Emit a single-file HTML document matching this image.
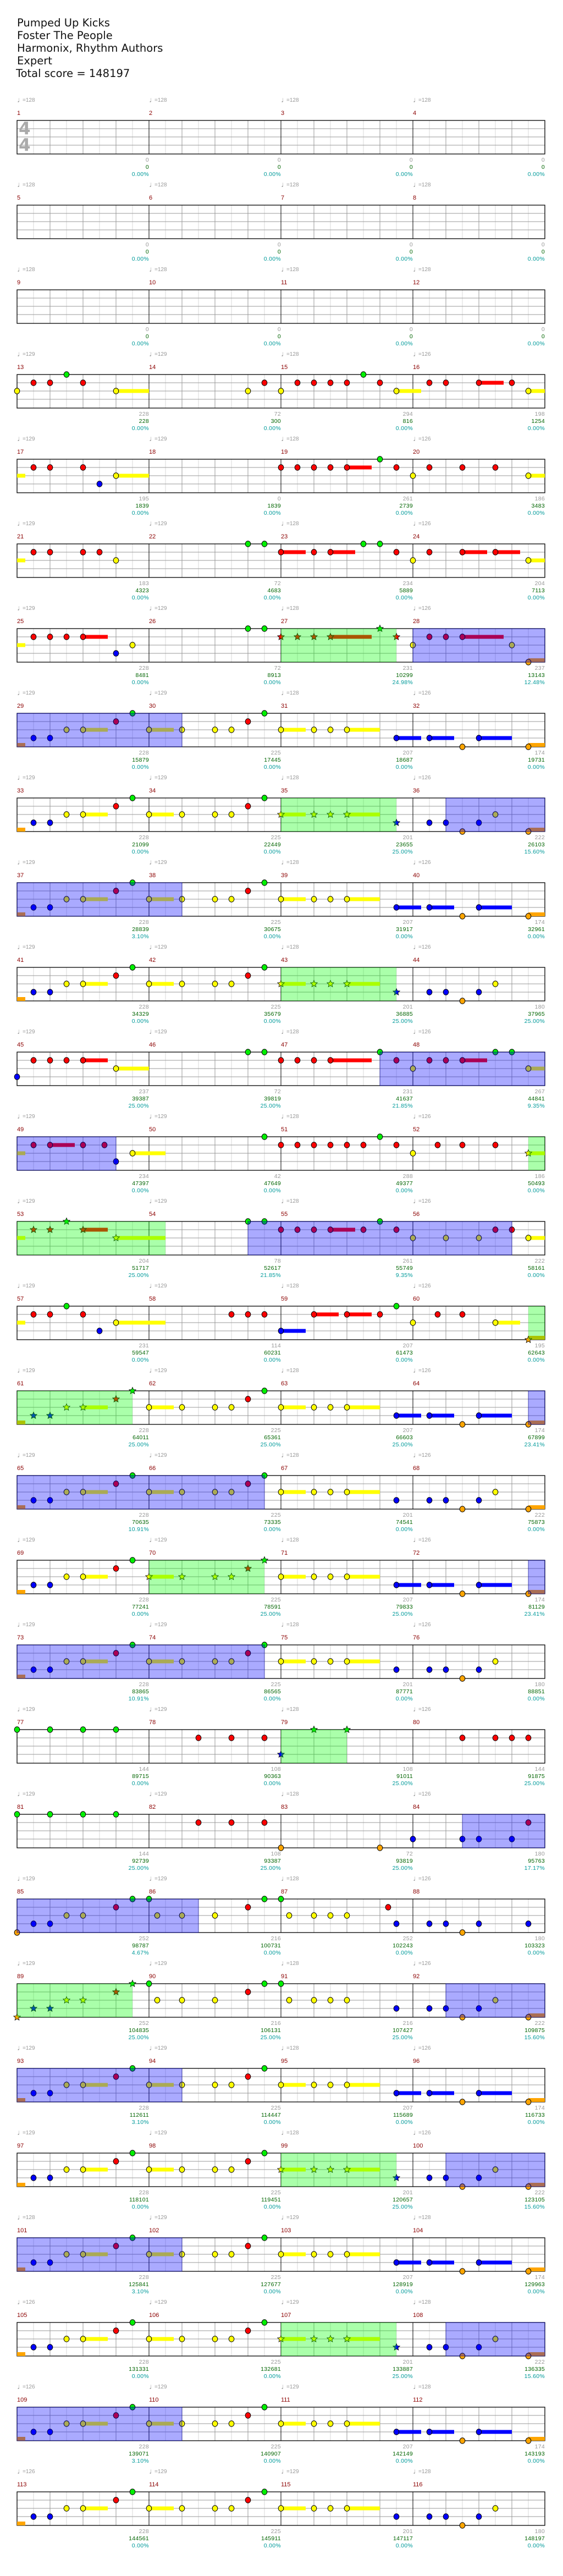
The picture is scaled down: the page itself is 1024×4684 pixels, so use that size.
<!DOCTYPE html>
<html><head><meta charset="utf-8">
<style>
html,body{margin:0;padding:0;background:#fff;}
body{width:1024px;height:4684px;position:relative;overflow:hidden;font-family:"Liberation Sans","DejaVu Sans",sans-serif;}
#g{position:absolute;left:0;top:0;}
.title{position:absolute;left:31px;top:30px;font-family:"DejaVu Sans","Liberation Sans",sans-serif;font-size:19.5px;line-height:23px;color:#111;}
.row{position:absolute;left:0;width:1024px;height:1px;}
.c{position:absolute;width:240px;height:1px;}
.c0{left:31px}.c1{left:271px}.c2{left:511px}.c3{left:751px}
.t{position:absolute;left:0;top:-45px;font-size:10px;line-height:12px;color:#999;white-space:nowrap;}
.t b{font-size:14px;font-weight:normal;position:relative;top:1px;margin-right:-4px;}
.n{position:absolute;left:0;top:-19px;font-size:11px;line-height:13px;color:#8b0000;}
.s{position:absolute;right:0;top:66px;font-size:10.5px;line-height:13px;text-align:right;white-space:nowrap;color:#999;letter-spacing:0.3px;}
.s i{font-style:normal;color:#006400;display:block}
.s u{text-decoration:none;color:#009a9a;display:block}
.ts{position:absolute;left:34px;font-family:"DejaVu Sans",sans-serif;font-size:31px;font-weight:bold;color:#aaa;line-height:30px;}
</style></head><body>
<svg id="g" width="1024" height="4684" xmlns="http://www.w3.org/2000/svg"></svg>
<div class="title">Pumped Up Kicks<br>Foster The People<br>Harmonix, Rhythm Authors<br>Expert<br><span style="margin-left:-2px">Total score = 148197</span></div>
<div class="ts" style="top:219px">4</div><div class="ts" style="top:249px">4</div>

<div class="row" style="top:219px">
<div class="c c0"><div class="t"><b>♩</b>=128</div><div class="n">1</div><div class="s">0<i>0</i><u>0.00%</u></div></div>
<div class="c c1"><div class="t"><b>♩</b>=128</div><div class="n">2</div><div class="s">0<i>0</i><u>0.00%</u></div></div>
<div class="c c2"><div class="t"><b>♩</b>=128</div><div class="n">3</div><div class="s">0<i>0</i><u>0.00%</u></div></div>
<div class="c c3"><div class="t"><b>♩</b>=128</div><div class="n">4</div><div class="s">0<i>0</i><u>0.00%</u></div></div>
</div>
<div class="row" style="top:373px">
<div class="c c0"><div class="t"><b>♩</b>=128</div><div class="n">5</div><div class="s">0<i>0</i><u>0.00%</u></div></div>
<div class="c c1"><div class="t"><b>♩</b>=128</div><div class="n">6</div><div class="s">0<i>0</i><u>0.00%</u></div></div>
<div class="c c2"><div class="t"><b>♩</b>=128</div><div class="n">7</div><div class="s">0<i>0</i><u>0.00%</u></div></div>
<div class="c c3"><div class="t"><b>♩</b>=128</div><div class="n">8</div><div class="s">0<i>0</i><u>0.00%</u></div></div>
</div>
<div class="row" style="top:527px">
<div class="c c0"><div class="t"><b>♩</b>=128</div><div class="n">9</div><div class="s">0<i>0</i><u>0.00%</u></div></div>
<div class="c c1"><div class="t"><b>♩</b>=128</div><div class="n">10</div><div class="s">0<i>0</i><u>0.00%</u></div></div>
<div class="c c2"><div class="t"><b>♩</b>=128</div><div class="n">11</div><div class="s">0<i>0</i><u>0.00%</u></div></div>
<div class="c c3"><div class="t"><b>♩</b>=128</div><div class="n">12</div><div class="s">0<i>0</i><u>0.00%</u></div></div>
</div>
<div class="row" style="top:681px">
<div class="c c0"><div class="t"><b>♩</b>=129</div><div class="n">13</div><div class="s">228<i>228</i><u>0.00%</u></div></div>
<div class="c c1"><div class="t"><b>♩</b>=129</div><div class="n">14</div><div class="s">72<i>300</i><u>0.00%</u></div></div>
<div class="c c2"><div class="t"><b>♩</b>=128</div><div class="n">15</div><div class="s">294<i>816</i><u>0.00%</u></div></div>
<div class="c c3"><div class="t"><b>♩</b>=126</div><div class="n">16</div><div class="s">198<i>1254</i><u>0.00%</u></div></div>
</div>
<div class="row" style="top:835px">
<div class="c c0"><div class="t"><b>♩</b>=129</div><div class="n">17</div><div class="s">195<i>1839</i><u>0.00%</u></div></div>
<div class="c c1"><div class="t"><b>♩</b>=129</div><div class="n">18</div><div class="s">0<i>1839</i><u>0.00%</u></div></div>
<div class="c c2"><div class="t"><b>♩</b>=128</div><div class="n">19</div><div class="s">261<i>2739</i><u>0.00%</u></div></div>
<div class="c c3"><div class="t"><b>♩</b>=126</div><div class="n">20</div><div class="s">186<i>3483</i><u>0.00%</u></div></div>
</div>
<div class="row" style="top:989px">
<div class="c c0"><div class="t"><b>♩</b>=129</div><div class="n">21</div><div class="s">183<i>4323</i><u>0.00%</u></div></div>
<div class="c c1"><div class="t"><b>♩</b>=129</div><div class="n">22</div><div class="s">72<i>4683</i><u>0.00%</u></div></div>
<div class="c c2"><div class="t"><b>♩</b>=128</div><div class="n">23</div><div class="s">234<i>5889</i><u>0.00%</u></div></div>
<div class="c c3"><div class="t"><b>♩</b>=126</div><div class="n">24</div><div class="s">204<i>7113</i><u>0.00%</u></div></div>
</div>
<div class="row" style="top:1143px">
<div class="c c0"><div class="t"><b>♩</b>=129</div><div class="n">25</div><div class="s">228<i>8481</i><u>0.00%</u></div></div>
<div class="c c1"><div class="t"><b>♩</b>=129</div><div class="n">26</div><div class="s">72<i>8913</i><u>0.00%</u></div></div>
<div class="c c2"><div class="t"><b>♩</b>=128</div><div class="n">27</div><div class="s">231<i>10299</i><u>24.98%</u></div></div>
<div class="c c3"><div class="t"><b>♩</b>=126</div><div class="n">28</div><div class="s">237<i>13143</i><u>12.48%</u></div></div>
</div>
<div class="row" style="top:1297px">
<div class="c c0"><div class="t"><b>♩</b>=129</div><div class="n">29</div><div class="s">228<i>15879</i><u>0.00%</u></div></div>
<div class="c c1"><div class="t"><b>♩</b>=129</div><div class="n">30</div><div class="s">225<i>17445</i><u>0.00%</u></div></div>
<div class="c c2"><div class="t"><b>♩</b>=128</div><div class="n">31</div><div class="s">207<i>18687</i><u>0.00%</u></div></div>
<div class="c c3"><div class="t"><b>♩</b>=126</div><div class="n">32</div><div class="s">174<i>19731</i><u>0.00%</u></div></div>
</div>
<div class="row" style="top:1451px">
<div class="c c0"><div class="t"><b>♩</b>=129</div><div class="n">33</div><div class="s">228<i>21099</i><u>0.00%</u></div></div>
<div class="c c1"><div class="t"><b>♩</b>=129</div><div class="n">34</div><div class="s">225<i>22449</i><u>0.00%</u></div></div>
<div class="c c2"><div class="t"><b>♩</b>=128</div><div class="n">35</div><div class="s">201<i>23655</i><u>25.00%</u></div></div>
<div class="c c3"><div class="t"><b>♩</b>=126</div><div class="n">36</div><div class="s">222<i>26103</i><u>15.60%</u></div></div>
</div>
<div class="row" style="top:1605px">
<div class="c c0"><div class="t"><b>♩</b>=129</div><div class="n">37</div><div class="s">228<i>28839</i><u>3.10%</u></div></div>
<div class="c c1"><div class="t"><b>♩</b>=129</div><div class="n">38</div><div class="s">225<i>30675</i><u>0.00%</u></div></div>
<div class="c c2"><div class="t"><b>♩</b>=128</div><div class="n">39</div><div class="s">207<i>31917</i><u>0.00%</u></div></div>
<div class="c c3"><div class="t"><b>♩</b>=126</div><div class="n">40</div><div class="s">174<i>32961</i><u>0.00%</u></div></div>
</div>
<div class="row" style="top:1759px">
<div class="c c0"><div class="t"><b>♩</b>=129</div><div class="n">41</div><div class="s">228<i>34329</i><u>0.00%</u></div></div>
<div class="c c1"><div class="t"><b>♩</b>=129</div><div class="n">42</div><div class="s">225<i>35679</i><u>0.00%</u></div></div>
<div class="c c2"><div class="t"><b>♩</b>=128</div><div class="n">43</div><div class="s">201<i>36885</i><u>25.00%</u></div></div>
<div class="c c3"><div class="t"><b>♩</b>=126</div><div class="n">44</div><div class="s">180<i>37965</i><u>25.00%</u></div></div>
</div>
<div class="row" style="top:1913px">
<div class="c c0"><div class="t"><b>♩</b>=129</div><div class="n">45</div><div class="s">237<i>39387</i><u>25.00%</u></div></div>
<div class="c c1"><div class="t"><b>♩</b>=129</div><div class="n">46</div><div class="s">72<i>39819</i><u>25.00%</u></div></div>
<div class="c c2"><div class="t"><b>♩</b>=128</div><div class="n">47</div><div class="s">231<i>41637</i><u>21.85%</u></div></div>
<div class="c c3"><div class="t"><b>♩</b>=126</div><div class="n">48</div><div class="s">267<i>44841</i><u>9.35%</u></div></div>
</div>
<div class="row" style="top:2067px">
<div class="c c0"><div class="t"><b>♩</b>=129</div><div class="n">49</div><div class="s">234<i>47397</i><u>0.00%</u></div></div>
<div class="c c1"><div class="t"><b>♩</b>=129</div><div class="n">50</div><div class="s">42<i>47649</i><u>0.00%</u></div></div>
<div class="c c2"><div class="t"><b>♩</b>=128</div><div class="n">51</div><div class="s">288<i>49377</i><u>0.00%</u></div></div>
<div class="c c3"><div class="t"><b>♩</b>=126</div><div class="n">52</div><div class="s">186<i>50493</i><u>0.00%</u></div></div>
</div>
<div class="row" style="top:2221px">
<div class="c c0"><div class="t"><b>♩</b>=129</div><div class="n">53</div><div class="s">204<i>51717</i><u>25.00%</u></div></div>
<div class="c c1"><div class="t"><b>♩</b>=129</div><div class="n">54</div><div class="s">78<i>52617</i><u>21.85%</u></div></div>
<div class="c c2"><div class="t"><b>♩</b>=128</div><div class="n">55</div><div class="s">261<i>55749</i><u>9.35%</u></div></div>
<div class="c c3"><div class="t"><b>♩</b>=126</div><div class="n">56</div><div class="s">222<i>58161</i><u>0.00%</u></div></div>
</div>
<div class="row" style="top:2375px">
<div class="c c0"><div class="t"><b>♩</b>=129</div><div class="n">57</div><div class="s">231<i>59547</i><u>0.00%</u></div></div>
<div class="c c1"><div class="t"><b>♩</b>=129</div><div class="n">58</div><div class="s">114<i>60231</i><u>0.00%</u></div></div>
<div class="c c2"><div class="t"><b>♩</b>=128</div><div class="n">59</div><div class="s">207<i>61473</i><u>0.00%</u></div></div>
<div class="c c3"><div class="t"><b>♩</b>=126</div><div class="n">60</div><div class="s">195<i>62643</i><u>0.00%</u></div></div>
</div>
<div class="row" style="top:2529px">
<div class="c c0"><div class="t"><b>♩</b>=129</div><div class="n">61</div><div class="s">228<i>64011</i><u>25.00%</u></div></div>
<div class="c c1"><div class="t"><b>♩</b>=129</div><div class="n">62</div><div class="s">225<i>65361</i><u>25.00%</u></div></div>
<div class="c c2"><div class="t"><b>♩</b>=128</div><div class="n">63</div><div class="s">207<i>66603</i><u>25.00%</u></div></div>
<div class="c c3"><div class="t"><b>♩</b>=126</div><div class="n">64</div><div class="s">174<i>67899</i><u>23.41%</u></div></div>
</div>
<div class="row" style="top:2683px">
<div class="c c0"><div class="t"><b>♩</b>=129</div><div class="n">65</div><div class="s">228<i>70635</i><u>10.91%</u></div></div>
<div class="c c1"><div class="t"><b>♩</b>=129</div><div class="n">66</div><div class="s">225<i>73335</i><u>0.00%</u></div></div>
<div class="c c2"><div class="t"><b>♩</b>=128</div><div class="n">67</div><div class="s">201<i>74541</i><u>0.00%</u></div></div>
<div class="c c3"><div class="t"><b>♩</b>=126</div><div class="n">68</div><div class="s">222<i>75873</i><u>0.00%</u></div></div>
</div>
<div class="row" style="top:2837px">
<div class="c c0"><div class="t"><b>♩</b>=129</div><div class="n">69</div><div class="s">228<i>77241</i><u>0.00%</u></div></div>
<div class="c c1"><div class="t"><b>♩</b>=129</div><div class="n">70</div><div class="s">225<i>78591</i><u>25.00%</u></div></div>
<div class="c c2"><div class="t"><b>♩</b>=128</div><div class="n">71</div><div class="s">207<i>79833</i><u>25.00%</u></div></div>
<div class="c c3"><div class="t"><b>♩</b>=126</div><div class="n">72</div><div class="s">174<i>81129</i><u>23.41%</u></div></div>
</div>
<div class="row" style="top:2991px">
<div class="c c0"><div class="t"><b>♩</b>=129</div><div class="n">73</div><div class="s">228<i>83865</i><u>10.91%</u></div></div>
<div class="c c1"><div class="t"><b>♩</b>=129</div><div class="n">74</div><div class="s">225<i>86565</i><u>0.00%</u></div></div>
<div class="c c2"><div class="t"><b>♩</b>=128</div><div class="n">75</div><div class="s">201<i>87771</i><u>0.00%</u></div></div>
<div class="c c3"><div class="t"><b>♩</b>=126</div><div class="n">76</div><div class="s">180<i>88851</i><u>0.00%</u></div></div>
</div>
<div class="row" style="top:3145px">
<div class="c c0"><div class="t"><b>♩</b>=129</div><div class="n">77</div><div class="s">144<i>89715</i><u>0.00%</u></div></div>
<div class="c c1"><div class="t"><b>♩</b>=129</div><div class="n">78</div><div class="s">108<i>90363</i><u>0.00%</u></div></div>
<div class="c c2"><div class="t"><b>♩</b>=128</div><div class="n">79</div><div class="s">108<i>91011</i><u>25.00%</u></div></div>
<div class="c c3"><div class="t"><b>♩</b>=126</div><div class="n">80</div><div class="s">144<i>91875</i><u>25.00%</u></div></div>
</div>
<div class="row" style="top:3299px">
<div class="c c0"><div class="t"><b>♩</b>=129</div><div class="n">81</div><div class="s">144<i>92739</i><u>25.00%</u></div></div>
<div class="c c1"><div class="t"><b>♩</b>=129</div><div class="n">82</div><div class="s">108<i>93387</i><u>25.00%</u></div></div>
<div class="c c2"><div class="t"><b>♩</b>=128</div><div class="n">83</div><div class="s">72<i>93819</i><u>25.00%</u></div></div>
<div class="c c3"><div class="t"><b>♩</b>=126</div><div class="n">84</div><div class="s">180<i>95763</i><u>17.17%</u></div></div>
</div>
<div class="row" style="top:3453px">
<div class="c c0"><div class="t"><b>♩</b>=129</div><div class="n">85</div><div class="s">252<i>98787</i><u>4.67%</u></div></div>
<div class="c c1"><div class="t"><b>♩</b>=129</div><div class="n">86</div><div class="s">216<i>100731</i><u>0.00%</u></div></div>
<div class="c c2"><div class="t"><b>♩</b>=128</div><div class="n">87</div><div class="s">252<i>102243</i><u>0.00%</u></div></div>
<div class="c c3"><div class="t"><b>♩</b>=126</div><div class="n">88</div><div class="s">180<i>103323</i><u>0.00%</u></div></div>
</div>
<div class="row" style="top:3607px">
<div class="c c0"><div class="t"><b>♩</b>=129</div><div class="n">89</div><div class="s">252<i>104835</i><u>25.00%</u></div></div>
<div class="c c1"><div class="t"><b>♩</b>=129</div><div class="n">90</div><div class="s">216<i>106131</i><u>25.00%</u></div></div>
<div class="c c2"><div class="t"><b>♩</b>=128</div><div class="n">91</div><div class="s">216<i>107427</i><u>25.00%</u></div></div>
<div class="c c3"><div class="t"><b>♩</b>=126</div><div class="n">92</div><div class="s">222<i>109875</i><u>15.60%</u></div></div>
</div>
<div class="row" style="top:3761px">
<div class="c c0"><div class="t"><b>♩</b>=129</div><div class="n">93</div><div class="s">228<i>112611</i><u>3.10%</u></div></div>
<div class="c c1"><div class="t"><b>♩</b>=129</div><div class="n">94</div><div class="s">225<i>114447</i><u>0.00%</u></div></div>
<div class="c c2"><div class="t"><b>♩</b>=128</div><div class="n">95</div><div class="s">207<i>115689</i><u>0.00%</u></div></div>
<div class="c c3"><div class="t"><b>♩</b>=126</div><div class="n">96</div><div class="s">174<i>116733</i><u>0.00%</u></div></div>
</div>
<div class="row" style="top:3915px">
<div class="c c0"><div class="t"><b>♩</b>=129</div><div class="n">97</div><div class="s">228<i>118101</i><u>0.00%</u></div></div>
<div class="c c1"><div class="t"><b>♩</b>=129</div><div class="n">98</div><div class="s">225<i>119451</i><u>0.00%</u></div></div>
<div class="c c2"><div class="t"><b>♩</b>=128</div><div class="n">99</div><div class="s">201<i>120657</i><u>25.00%</u></div></div>
<div class="c c3"><div class="t"><b>♩</b>=126</div><div class="n">100</div><div class="s">222<i>123105</i><u>15.60%</u></div></div>
</div>
<div class="row" style="top:4069px">
<div class="c c0"><div class="t"><b>♩</b>=128</div><div class="n">101</div><div class="s">228<i>125841</i><u>3.10%</u></div></div>
<div class="c c1"><div class="t"><b>♩</b>=129</div><div class="n">102</div><div class="s">225<i>127677</i><u>0.00%</u></div></div>
<div class="c c2"><div class="t"><b>♩</b>=129</div><div class="n">103</div><div class="s">207<i>128919</i><u>0.00%</u></div></div>
<div class="c c3"><div class="t"><b>♩</b>=128</div><div class="n">104</div><div class="s">174<i>129963</i><u>0.00%</u></div></div>
</div>
<div class="row" style="top:4223px">
<div class="c c0"><div class="t"><b>♩</b>=126</div><div class="n">105</div><div class="s">228<i>131331</i><u>0.00%</u></div></div>
<div class="c c1"><div class="t"><b>♩</b>=129</div><div class="n">106</div><div class="s">225<i>132681</i><u>0.00%</u></div></div>
<div class="c c2"><div class="t"><b>♩</b>=129</div><div class="n">107</div><div class="s">201<i>133887</i><u>25.00%</u></div></div>
<div class="c c3"><div class="t"><b>♩</b>=128</div><div class="n">108</div><div class="s">222<i>136335</i><u>15.60%</u></div></div>
</div>
<div class="row" style="top:4377px">
<div class="c c0"><div class="t"><b>♩</b>=126</div><div class="n">109</div><div class="s">228<i>139071</i><u>3.10%</u></div></div>
<div class="c c1"><div class="t"><b>♩</b>=129</div><div class="n">110</div><div class="s">225<i>140907</i><u>0.00%</u></div></div>
<div class="c c2"><div class="t"><b>♩</b>=129</div><div class="n">111</div><div class="s">207<i>142149</i><u>0.00%</u></div></div>
<div class="c c3"><div class="t"><b>♩</b>=128</div><div class="n">112</div><div class="s">174<i>143193</i><u>0.00%</u></div></div>
</div>
<div class="row" style="top:4531px">
<div class="c c0"><div class="t"><b>♩</b>=126</div><div class="n">113</div><div class="s">228<i>144561</i><u>0.00%</u></div></div>
<div class="c c1"><div class="t"><b>♩</b>=129</div><div class="n">114</div><div class="s">225<i>145911</i><u>0.00%</u></div></div>
<div class="c c2"><div class="t"><b>♩</b>=129</div><div class="n">115</div><div class="s">201<i>147117</i><u>0.00%</u></div></div>
<div class="c c3"><div class="t"><b>♩</b>=128</div><div class="n">116</div><div class="s">180<i>148197</i><u>0.00%</u></div></div>
</div>

<script>
(function(){
var NS="http://www.w3.org/2000/svg",svg=document.getElementById("g");
function el(n,a){var e=document.createElementNS(NS,n);for(var k in a)e.setAttribute(k,a[k]);svg.appendChild(e);return e;}
var COL={G:"#00f000",R:"#ff0000",Y:"#ffff00",B:"#0000ff",O:"#ffa500"};
var LANE={G:0,R:1,Y:2,B:3,O:4};
var LY=[0,15,30,45,61];
var base1="~O0-.5 B1 B2 Y3 Y4-1.5 R6 G7 Y8-1.5 Y10 Y12 Y13 R14 G15 Y16-1.5 Y18 Y19 Y20-2 ";
var tailSus="B23-1.5 B25-1.5 B28-2 O27 O31-1 ";
var tailPlain="B23 B25 B26 B28 Y29 O27 ";
var starRow="~O0-.5 B1 B2 Y3 Y4-1.5 R6 G7 Y8-1.5 Y10 Y12 Y13 R14 G15 g16-23 *Y16-1.5 *Y18 *Y19 *Y20-2 *B23 B25 B26 B28 Y29 O27 ";
var rows=["","","",
"G3 R1 R2 R4 Y0 Y6-2 Y14 R15 Y16 R17 R18 R19 R20 R22 G21 Y23-1.5 R25 R26 R28-1.5 R30 Y31-1",
"~Y0-.5 R1 R2 R4 B5 Y6-2 R16 R17 R18 R19 R20-1.5 G22 R23 Y24 R25 R27 R29 Y31-1",
"~Y0-.5 R1 R2 R4 R5 Y6 G14 G15 R16-1.5 R18 R19-1.5 G21 G22 R23 Y24 R25 R27-1.5 R29-1.5 Y31-1",
"~Y0-.5 R1 R2 R3 R4-1.5 B6 Y7 G14 G15 g16-23 *R16 *R17 *R18 *R19-2.5 *G22 *R23 b24-32 Y24 R25 R26 R27-2.5 Y30 O31-1",
"b0-10 "+base1+tailSus,
starRow+"O31-1 b26-32",
"b0-10 "+base1+tailSus,
starRow,
"B0 R1 R2 R3 R4-1.5 Y6-2 G14 G15 R16 R17 R18 R19-2.5 G22 b22-32 R23 Y24 R25 R26 R27-1.5 G29 G30 Y31-1",
"b0-6 ~Y0-.5 R1 R2-1.5 R4 R5.3 B6 Y7-2 G15 R16 R17 R18 R19 R20 R21 G22 R23 Y24 R25.5 R27 R29 g31-32 *Y31-1",
"g0-9 ~Y0-.5 *R1 *R2 *G3 *R4-1.5 *Y6-3 G14 b14-30 G15 R16 R17 R18 R19-1.5 R21 G22 R23 Y24 Y26 Y28 R29 R30 Y31-1",
"~Y0-.5 R1 R2 R4 G3 B5 Y6-3 R13 R14 R15 B16-1.5 R18-1.5 R20-1.5 R22 G23 Y24 R25.5 R27 Y29-1.5 g31-32 *O31-1",
"g0-7 ~O0-.5 *B1 *B2 *Y3 *Y4-1.5 *R6 *G7 Y8-1.5 Y10 Y12 Y13 R14 G15 Y16-1.5 Y18 Y19 Y20-2 "+tailSus+"b31-32",
"b0-15 "+base1+tailPlain+"O31-1",
"~O0-.5 B1 B2 Y3 Y4-1.5 R6 G7 g8-15 *Y8-1.5 *Y10 *Y12 *Y13 *R14 *G15 Y16-1.5 Y18 Y19 Y20-2 "+tailSus+"b31-32",
"b0-15 "+base1+tailPlain,
"G0 G2 G4 G6 R11 R13 R15 g16-20 *B16 *G18 *G20 R27 R29 R30 R31",
"G0 G2 G4 G6 R11 R13 R15 O16 O22 B24 b27-32 B27 B28 B30 R31",
"b0-11 O0 B1 B2 Y3 Y4 R6 G7 G8 Y8.5 Y10 Y12 R14 G15 G16 Y16.5 Y18 Y19 Y20 R22.5 B23 B25 B26 B28 B31 O27",
"g0-7 *O0 *B1 *B2 *Y3 *Y4 *R6 *G7 G8 Y8.5 Y10 Y12 R14 G15 G16 Y16.5 Y18 Y19 Y20 B23 B25 b26-32 B26 B28 Y29 O27 O31-1",
"b0-10 "+base1+tailSus,
starRow+"O31-1 b26-32",
"b0-10 "+base1+tailSus,
starRow+"O31-1 b26-32",
"b0-10 "+base1+tailSus,
base1+tailPlain
];
function star(cx,cy,r,fill){
  var pts=[];for(var i=0;i<10;i++){var a=-Math.PI/2+i*Math.PI/5,rr=i%2?r*0.45:r;pts.push((cx+rr*Math.cos(a)).toFixed(1)+","+(cy+rr*Math.sin(a)).toFixed(1));}
  el("polygon",{points:pts.join(" "),fill:fill,stroke:"#000","stroke-width":"0.8"});
}
for(var r=0;r<29;r++){
  var T=219+154*r, L=31, R=991;
  for(var i=1;i<32;i++){ if(i%2) el("line",{x1:L+30*i,y1:T,x2:L+30*i,y2:T+61,stroke:"#d8d8d8","stroke-width":1}); }
  [15,30,45].forEach(function(d){el("line",{x1:L,y1:T+d,x2:R,y2:T+d,stroke:"#999","stroke-width":1});});
  for(var i=1;i<32;i++){ if(i%2==0&&i%8) el("line",{x1:L+30*i,y1:T,x2:L+30*i,y2:T+61,stroke:"#999","stroke-width":1}); }
  for(var i=8;i<32;i+=8) el("line",{x1:L+30*i,y1:T,x2:L+30*i,y2:T+61,stroke:"#000","stroke-width":1});
  el("rect",{x:L,y:T,width:960,height:61,fill:"none",stroke:"#000","stroke-width":1.3});
  var toks=rows[r].split(/\s+/).filter(function(s){return s;});
  var regs=[],notes=[];
  toks.forEach(function(t){
    var m=/^([bg])([\d.]+)-([\d.]+)$/.exec(t);
    if(m){regs.push({c:m[1],a:+m[2],b:+m[3]});return;}
    var bar=false,st=false;
    if(t[0]=="~"){bar=true;t=t.slice(1);}
    if(t[0]=="*"){st=true;t=t.slice(1);}
    var k=t[0],rest=t.slice(1).split("-");
    notes.push({k:k,p:+rest[0],len:rest.length>1?+("0"+rest[1]):0,bar:bar,st:st});
  });
  notes.forEach(function(n){ if(n.len>0){var y=T+LY[LANE[n.k]];var x1=L+30*n.p,x2=Math.min(R,L+30*(n.p+n.len));
    if(LANE[n.k]==4) el("rect",{x:x1,y:y-7,width:x2-x1,height:7,fill:COL[n.k]});
    else el("rect",{x:x1,y:y-3.5,width:x2-x1,height:7,fill:COL[n.k]});}});
  notes.forEach(function(n){ if(n.bar) return; var x=L+30*n.p,y=T+LY[LANE[n.k]];
    if(n.st) star(x,y,6.5,COL[n.k]); else el("ellipse",{cx:x,cy:y,rx:4.8,ry:5.2,fill:COL[n.k],stroke:"#000","stroke-width":1});});
  regs.forEach(function(g){ el("rect",{x:L+30*g.a,y:T,width:30*(g.b-g.a),height:61,fill:g.c=="b"?"#0000ff":"#00ff00","fill-opacity":0.333});
    if(g.c=="b") el("rect",{x:L+30*g.a,y:T,width:30*(g.b-g.a),height:61,fill:"none",stroke:"#00008b","stroke-width":1,"stroke-opacity":0.6});});
}
})();
</script>
</body></html>
